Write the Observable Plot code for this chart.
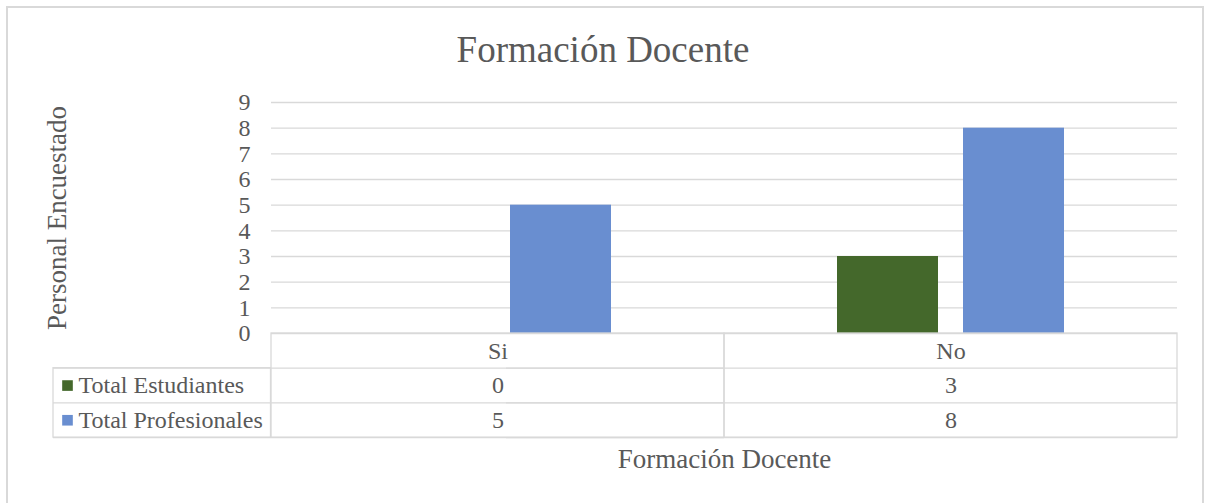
<!DOCTYPE html>
<html><head><meta charset="utf-8">
<script src="https://cdn.jsdelivr.net/npm/d3@7"></script>
<script src="https://cdn.jsdelivr.net/npm/@observablehq/plot@0.6"></script>
<style>
html,body{margin:0;padding:0;background:#fff;overflow:hidden;}
#wrap{position:relative;width:1206px;height:503px;overflow:hidden;font-family:"Liberation Serif","Times New Roman",serif;}
#border{position:absolute;left:6px;top:6px;width:1198px;height:600px;border:2px solid #d9d9d9;box-sizing:border-box;pointer-events:none;}
#title{height:80px;box-sizing:border-box;padding-top:31px;text-align:center;font-size:37px;line-height:37px;color:#595959;}
#chart svg{display:block;}
</style></head>
<body><div id="wrap"><div id="border"></div><div id="title">Formación Docente</div><div id="chart"></div></div>
<script>
const categories = ["Si", "No"];
const seriesNames = ["Total Estudiantes", "Total Profesionales"];
const estudiantes = [0, 3];
const profesionales = [5, 8];
const yTicks = [0, 1, 2, 3, 4, 5, 6, 7, 8, 9];
const colors = ["#44682b", "#698ed0"];
const yLabel = "Personal Encuestado";
const xLabel = "Formación Docente";

const data = [];
categories.forEach((c, i) => {
  data.push({category: c, series: seriesNames[0], value: estudiantes[i]});
  data.push({category: c, series: seriesNames[1], value: profesionales[i]});
});

const grey = "#595959", lineC = "#d9d9d9";
const font = '"Liberation Serif","Times New Roman",serif';
const rowH = 34.7;
const lw = 1.3;

const chart = Plot.plot({
  width: 1206, height: 423,
  marginTop: 22, marginBottom: 170, marginLeft: 270, marginRight: 29,
  style: {fontFamily: font, fontSize: "24px", color: grey, background: "transparent", overflow: "visible"},
  fx: {domain: categories, padding: 0},
  x: {domain: seriesNames, paddingInner: 0.2, paddingOuter: 0.89, axis: null},
  y: {domain: [0, 9]},
  color: {domain: seriesNames, range: colors},
  marks: [
    Plot.gridY(yTicks, {stroke: lineC, strokeOpacity: 1, strokeWidth: lw}),
    // y tick labels
    Plot.axisY(yTicks, {tickSize: 0, tickPadding: 21, fontSize: 24, label: null}),
    // y axis title
    Plot.axisY([], {tickSize: 0, fontSize: 27, label: yLabel, labelAnchor: "center", labelArrow: "none", labelOffset: 225}),
    Plot.barY(data, {fx: "category", x: "series", y: "value", fill: "series"}),
    // category labels (table header)
    Plot.axisFx({anchor: "bottom", tickSize: 0, tickPadding: 8, fontSize: 24, label: null}),
    // x axis title
    Plot.axisFx([], {anchor: "bottom", tickSize: 0, fontSize: 27, label: xLabel, labelAnchor: "center", labelArrow: "none", labelOffset: 134}),
    // table boxes under each category
    Plot.rect(categories, {fx: d => d, y1: 0, y2: 0, insetBottom: -3 * rowH, fill: "none", stroke: lineC, strokeWidth: lw}),
    Plot.ruleY([0], {dy: rowH, insetLeft: -218, stroke: lineC, strokeWidth: lw}),
    Plot.ruleY([0], {dy: 2 * rowH, insetLeft: -218, stroke: lineC, strokeWidth: lw}),
    Plot.ruleY([0], {dy: 3 * rowH, insetLeft: -218, stroke: lineC, strokeWidth: lw}),
    Plot.rect([0], {facetAnchor: "left", y1: 0, y2: 0, insetTop: rowH, insetBottom: -3 * rowH, insetLeft: -218, insetRight: 453.5, fill: "none", stroke: lineC, strokeWidth: lw}),
    // table values
    Plot.text(data.filter(d => d.series === seriesNames[0]), {fx: "category", text: "value", frameAnchor: "bottom", dy: 1.5 * rowH, lineAnchor: "middle", fill: grey, fontSize: 24}),
    Plot.text(data.filter(d => d.series === seriesNames[1]), {fx: "category", text: "value", frameAnchor: "bottom", dy: 2.5 * rowH, lineAnchor: "middle", fill: grey, fontSize: 24}),
    // legend column
    Plot.dot([seriesNames[0]], {facetAnchor: "left", frameAnchor: "bottom-left", dx: -204, dy: 1.5 * rowH, symbol: "square", r: 6, fill: d => d}),
    Plot.dot([seriesNames[1]], {facetAnchor: "left", frameAnchor: "bottom-left", dx: -204, dy: 2.5 * rowH, symbol: "square", r: 6, fill: d => d}),
    Plot.text([seriesNames[0]], {facetAnchor: "left", frameAnchor: "bottom-left", text: d => d, dx: -193, dy: 1.5 * rowH, textAnchor: "start", lineAnchor: "middle", fill: grey, fontSize: 24}),
    Plot.text([seriesNames[1]], {facetAnchor: "left", frameAnchor: "bottom-left", text: d => d, dx: -193, dy: 2.5 * rowH, textAnchor: "start", lineAnchor: "middle", fill: grey, fontSize: 24})
  ]
});
document.getElementById("chart").appendChild(chart);
</script>
</body></html>
